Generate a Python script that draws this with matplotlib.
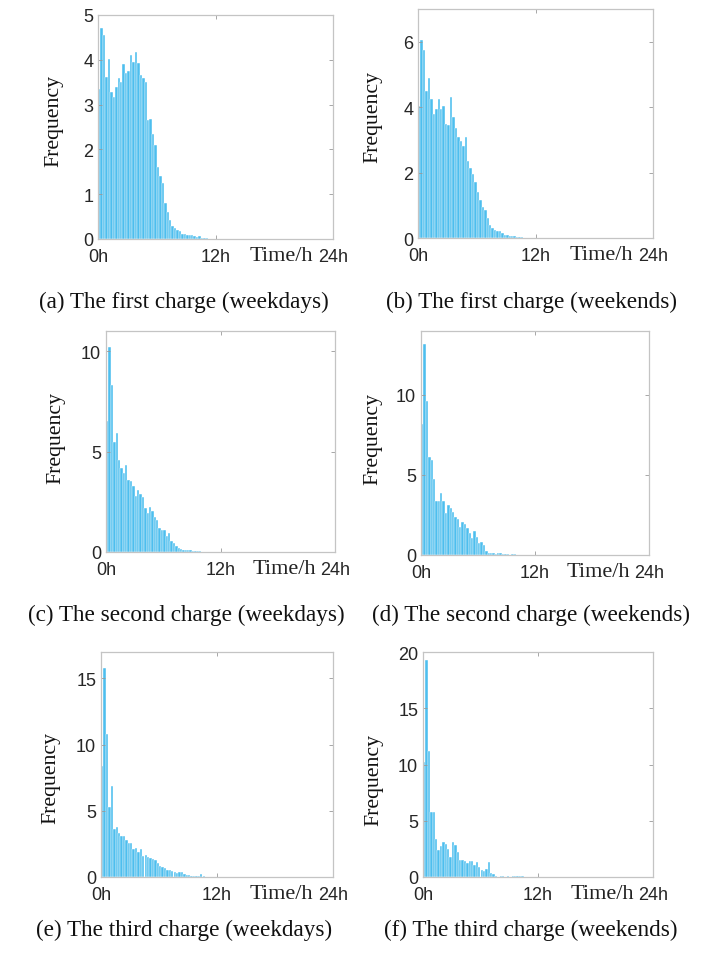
import numpy as np
import matplotlib.pyplot as plt

# histogram heights, 0.25 h bins starting at 0h
first_wd = [3.35, 4.7, 4.55, 3.62, 4.02, 3.28, 3.18, 3.4, 3.6, 3.5, 3.9, 3.7, 3.75, 4.1, 3.95, 4.18,
            3.93, 3.65, 3.6, 3.5, 2.66, 2.68, 2.35, 2.1, 1.6, 1.4, 1.25, 0.8, 0.6, 0.42, 0.3, 0.25,
            0.2, 0.17, 0.12, 0.12, 0.1, 0.1, 0.08, 0.06, 0.05, 0.06, 0.03, 0.02, 0.02, 0.01]
first_we = [4.05, 6.05, 5.75, 4.5, 4.9, 4.25, 3.8, 3.95, 4.25, 3.95, 4.05, 3.5, 3.45, 4.3, 3.7, 3.35,
            3.1, 2.95, 2.8, 3.1, 2.35, 2.15, 1.95, 1.7, 1.4, 1.15, 0.95, 0.85, 0.6, 0.4, 0.3, 0.25,
            0.22, 0.22, 0.15, 0.1, 0.08, 0.07, 0.06, 0.05, 0.04, 0.03, 0.02, 0.01]
second_wd = [6.5, 10.2, 8.3, 5.5, 5.9, 4.6, 4.2, 3.95, 4.35, 3.6, 3.55, 3.3, 2.8, 3.1, 2.9, 2.75,
             2.2, 1.95, 2.25, 2.05, 1.75, 1.6, 1.2, 1.1, 1.1, 0.8, 0.95, 0.55, 0.45, 0.3, 0.2, 0.15,
             0.1, 0.12, 0.08, 0.1, 0.05, 0.04, 0.05, 0.03, 0.02, 0.01]
second_we = [8.2, 13.2, 9.6, 6.1, 5.95, 4.75, 3.35, 3.35, 3.85, 3.4, 2.65, 3.1, 2.95, 2.7, 2.4, 2.25,
             1.75, 2.05, 1.95, 1.7, 1.4, 1.05, 1.5, 1.1, 0.75, 0.8, 0.65, 0.25, 0.1, 0.15, 0.1, 0.08,
             0.12, 0.1, 0.08, 0.04, 0.05, 0.03, 0.04, 0.04, 0.02, 0.03]
third_wd = [8.4, 15.8, 10.8, 5.3, 6.85, 3.6, 3.8, 3.3, 3.1, 3.1, 2.8, 2.6, 2.55, 2.1, 2.2, 1.9,
            2.1, 1.6, 1.7, 1.5, 1.4, 1.35, 1.25, 1.05, 0.85, 0.75, 0.65, 0.5, 0.55, 0.45, 0.35, 0.3,
            0.4, 0.35, 0.2, 0.15, 0.12, 0.1, 0.1, 0.05, 0.05, 0.2, 0.05]
third_we = [10.2, 19.3, 11.2, 5.8, 5.8, 3.4, 2.4, 2.75, 3.1, 2.9, 2.45, 1.8, 3.1, 2.85, 2.25, 1.55,
            1.5, 1.4, 1.25, 1.4, 1.4, 1.1, 1.35, 0.9, 0.6, 0.55, 0.75, 1.35, 0.35, 0.3, 0.05, 0.0,
            0.05, 0.05, 0.03, 0.05, 0.04, 0.08, 0.05, 0.06, 0.1, 0.12, 0.0, 0.0, 0.0, 0.03, 0.0, 0.03]

series = [first_wd, first_we, second_wd, second_we, third_wd, third_we]
ylims = [5, 7, 11, 14, 17, 20]
yticks = [[0, 1, 2, 3, 4, 5], [0, 2, 4, 6], [0, 5, 10], [0, 5, 10], [0, 5, 10, 15], [0, 5, 10, 15, 20]]
captions = ["(a) The first charge (weekdays)", "(b) The first charge (weekends)",
            "(c) The second charge (weekdays)", "(d) The second charge (weekends)",
            "(e) The third charge (weekdays)", "(f) The third charge (weekends)"]
xtick_pos = [0, 12, 24]
xtick_lab = ["0h", "12h", "24h"]
bin_w = 0.25

W, H = 702, 954
# axes boxes in pixels: left, top, right, bottom
boxes = [(98, 16, 333, 240), (418, 10, 653, 239),
         (106, 332, 335, 553), (421, 332, 649, 556),
         (101, 653, 333, 878), (423, 653, 653, 878)]
cap_pos = [(184, 302), (531, 302), (186, 615), (531, 615), (184, 930), (531, 930)]
ylab_pos = [(63, 121), (382, 117), (65, 438), (382, 439), (60, 778), (383, 780)]

fig = plt.figure(figsize=(W / 100, H / 100), dpi=100)
serif = "Liberation Serif"
sans = "Liberation Sans"

for i, vals in enumerate(series):
    l, t, r, b = boxes[i]
    ax = fig.add_axes([l / W, 1 - b / H, (r - l) / W, (b - t) / H])
    x = np.arange(len(vals)) * bin_w
    ax.bar(x, vals, width=bin_w, align='edge', color='#4DBEEE', edgecolor='white', linewidth=0.3)
    ax.set_xlim(0, 24)
    ax.set_ylim(0, ylims[i])
    ax.set_xticks(xtick_pos)
    ax.set_xticklabels(xtick_lab, fontfamily=sans, fontsize=13, color='#262626')
    ax.set_yticks(yticks[i])
    ax.set_yticklabels([str(v) for v in yticks[i]], fontfamily=sans, fontsize=13, color='#262626')
    ax.tick_params(direction='in', length=3, width=0.6, color='#999999', top=True, right=True)
    ax.tick_params(axis='x', pad=6.5)
    ax.tick_params(axis='y', pad=3.5)
    for s in ax.spines.values():
        s.set_color('#c4c4c4')
        s.set_linewidth(0.9)
    ax.set_ylabel("Frequency", fontfamily=serif, fontsize=15.7, color='#111111')
    lx, ly = ylab_pos[i]
    ax.yaxis.set_label_coords(lx / W, 1 - ly / H, transform=fig.transFigure)
    ax.annotate("Time/h", xy=(18.7, 0), xycoords=('data', 'axes fraction'),
                xytext=(0, -5), textcoords='offset points',
                fontfamily=serif, fontsize=16, ha='center', va='top', color='#222222')
    cx, cy = cap_pos[i]
    fig.text(cx / W, 1 - cy / H, captions[i], fontfamily=serif, fontsize=16.7,
             ha='center', va='center', color='#111111')

fig.savefig("out.png", dpi=100)
